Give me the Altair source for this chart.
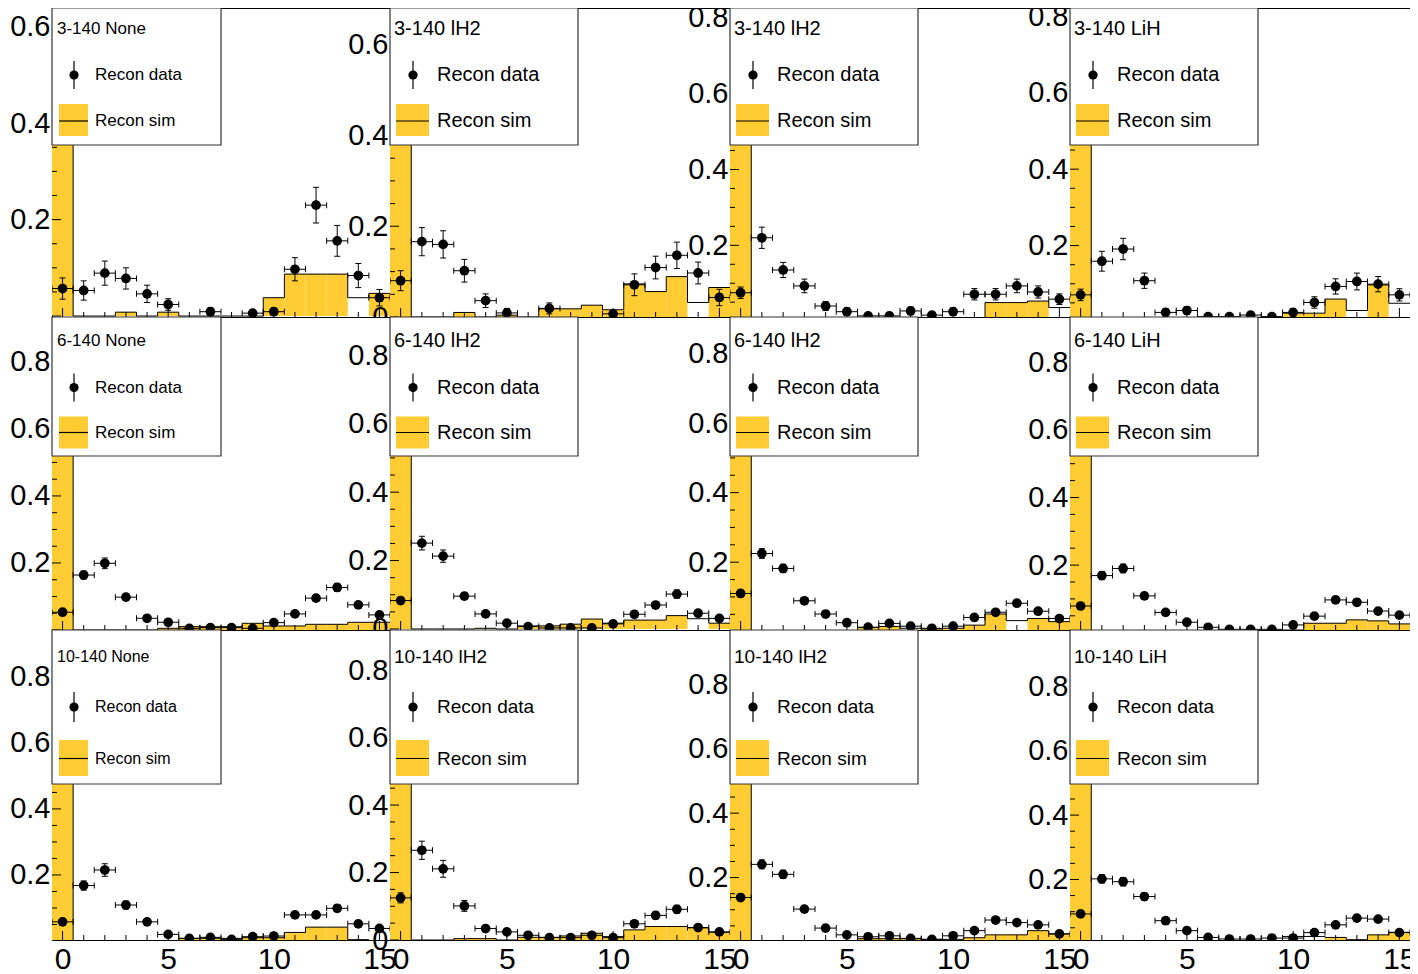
import altair as alt
import pandas as pd

FONT = "Liberation Sans"
YELLOW = "#FFCC33"

bins = list(range(16))
x_label_values = [0, 5, 10, 15]
y_label_candidates = [0.2, 0.4, 0.6, 0.8]

titles = ["3-140 None", "3-140 lH2", "3-140 lH2", "3-140 LiH",
          "6-140 None", "6-140 lH2", "6-140 lH2", "6-140 LiH",
          "10-140 None", "10-140 lH2", "10-140 lH2", "10-140 LiH"]

# y ranges of each pad
ydom_3 = [[-0.002, 0.639], [0.0, 0.681], [0.011, 0.826], [0.013, 0.822]]
ydom_6 = [[0.0, 0.934], [-0.003, 0.912], [0.005, 0.905], [0.008, 0.934]]
ydom_10 = [[0.003, 0.942], [0.0, 0.919], [0.006, 0.969], [0.012, 0.975]]

# ---- 3-140 ----
sim_3_none = [0.609, 0, 0, 0.008, 0, 0.008, 0, 0, 0, 0, 0.038, 0.087, 0.087, 0.087, 0.038, 0.047]
data_3_none = [0.057, 0.053, 0.089, 0.078, 0.046, 0.024, None, 0.009, None, 0.006, 0.009, 0.097, 0.230, 0.156, 0.084, 0.038]
err_3_none = [0.022, 0.020, 0.025, 0.022, 0.018, 0.012, None, 0.008, None, 0.006, 0.008, 0.024, 0.037, 0.032, 0.025, 0.017]

sim_3_lh2a = [0.649, 0, 0, 0.010, 0, 0.004, 0, 0.018, 0.018, 0.026, 0.016, 0.073, 0.056, 0.089, 0.032, 0.065]
data_3_lh2a = [0.080, 0.166, 0.160, 0.102, 0.036, 0.009, None, 0.019, None, None, 0.007, 0.071, 0.109, 0.136, 0.097, 0.043]
err_3_lh2a = [0.022, 0.031, 0.030, 0.025, 0.015, 0.010, None, 0.012, None, None, 0.008, 0.024, 0.025, 0.029, 0.024, 0.018]

sim_3_lh2b = [0.787, 0, 0, 0, 0, 0, 0, 0, 0, 0.008, 0.008, 0.008, 0.049, 0.049, 0.053, 0.036]
data_3_lh2b = [0.075, 0.220, 0.135, 0.093, 0.040, 0.025, 0.014, 0.014, 0.027, 0.016, 0.025, 0.071, 0.071, 0.093, 0.077, 0.058]
err_3_lh2b = [0.015, 0.028, 0.020, 0.018, 0.012, 0.010, 0.008, 0.008, 0.010, 0.008, 0.010, 0.015, 0.015, 0.018, 0.016, 0.014]

sim_3_lih = [0.783, 0, 0, 0, 0, 0, 0, 0, 0, 0, 0.023, 0.023, 0.060, 0.030, 0.097, 0.049]
data_3_lih = [0.071, 0.159, 0.191, 0.108, 0.025, 0.030, 0.014, 0.014, 0.018, 0.014, 0.025, 0.051, 0.093, 0.106, 0.099, 0.071]
err_3_lih = [0.015, 0.026, 0.028, 0.020, 0.010, 0.010, 0.008, 0.008, 0.008, 0.008, 0.010, 0.015, 0.020, 0.022, 0.020, 0.016]

# ---- 6-140 ----
sim_6_none = [0.890, 0, 0, 0, 0, 0.005, 0.010, 0.010, 0.010, 0.020, 0.012, 0.012, 0.017, 0.017, 0.023, 0.023]
data_6_none = [0.053, 0.164, 0.199, 0.098, 0.035, 0.023, 0.005, 0.007, 0.007, 0.005, 0.022, 0.048, 0.095, 0.127, 0.075, 0.045]
err_6_none = [0.008, 0.012, 0.016, 0.010, 0.007, 0.006, 0.003, 0.003, 0.003, 0.003, 0.006, 0.008, 0.010, 0.012, 0.010, 0.008]

sim_6_lh2a = [0.869, 0, 0, 0, 0.002, 0, 0.009, 0.009, 0.014, 0.029, 0.017, 0.026, 0.026, 0.039, 0.030, 0.017]
data_6_lh2a = [0.083, 0.251, 0.213, 0.096, 0.044, 0.017, 0.007, 0.003, 0.003, 0.003, 0.015, 0.043, 0.070, 0.102, 0.046, 0.031]
err_6_lh2a = [0.010, 0.020, 0.018, 0.010, 0.008, 0.006, 0.003, 0.002, 0.002, 0.002, 0.005, 0.008, 0.010, 0.012, 0.008, 0.007]

sim_6_lh2b = [0.862, 0, 0, 0, 0, 0, 0.012, 0.015, 0.010, 0.008, 0.010, 0.019, 0.051, 0.032, 0.038, 0.029]
data_6_lh2b = [0.110, 0.225, 0.182, 0.089, 0.051, 0.026, 0.013, 0.024, 0.016, 0.010, 0.016, 0.041, 0.056, 0.082, 0.059, 0.038]
err_6_lh2b = [0.010, 0.014, 0.012, 0.008, 0.007, 0.005, 0.004, 0.005, 0.004, 0.003, 0.004, 0.007, 0.008, 0.009, 0.008, 0.006]

sim_6_lih = [0.890, 0, 0, 0, 0, 0, 0, 0, 0, 0.005, 0.008, 0.028, 0.028, 0.038, 0.035, 0.026]
data_6_lih = [0.079, 0.169, 0.190, 0.109, 0.060, 0.031, 0.016, 0.010, 0.010, 0.010, 0.023, 0.049, 0.097, 0.090, 0.064, 0.052]
err_6_lih = [0.009, 0.012, 0.013, 0.009, 0.007, 0.005, 0.004, 0.003, 0.003, 0.003, 0.005, 0.007, 0.010, 0.010, 0.008, 0.007]

# ---- 10-140 ----
sim_10_none = [0.897, 0, 0, 0, 0, 0, 0.008, 0.008, 0.008, 0.010, 0.010, 0.026, 0.042, 0.042, 0.004, 0]
data_10_none = [0.058, 0.168, 0.215, 0.109, 0.058, 0.020, 0.008, 0.011, 0.005, 0.013, 0.015, 0.079, 0.079, 0.099, 0.052, 0.038]
err_10_none = [0.008, 0.014, 0.019, 0.012, 0.008, 0.005, 0.003, 0.004, 0.002, 0.004, 0.004, 0.009, 0.009, 0.010, 0.008, 0.007]

sim_10_lh2a = [0.875, 0, 0, 0.004, 0.004, 0, 0.008, 0.008, 0.012, 0.020, 0.010, 0.030, 0.040, 0.040, 0.036, 0.023]
data_10_lh2a = [0.125, 0.266, 0.211, 0.101, 0.034, 0.024, 0.014, 0.007, 0.007, 0.014, 0.007, 0.048, 0.073, 0.091, 0.037, 0.024]
err_10_lh2a = [0.015, 0.027, 0.025, 0.016, 0.008, 0.007, 0.005, 0.003, 0.003, 0.005, 0.003, 0.009, 0.011, 0.012, 0.008, 0.006]

sim_10_lh2b = [0.923, 0, 0, 0, 0, 0, 0.010, 0.010, 0.010, 0.008, 0.008, 0.013, 0.022, 0.022, 0.035, 0.025]
data_10_lh2b = [0.138, 0.241, 0.210, 0.102, 0.043, 0.022, 0.016, 0.019, 0.011, 0.008, 0.019, 0.035, 0.068, 0.060, 0.053, 0.025]
err_10_lh2b = [0.010, 0.014, 0.013, 0.009, 0.006, 0.004, 0.004, 0.004, 0.003, 0.003, 0.004, 0.006, 0.008, 0.008, 0.007, 0.005]

sim_10_lih = [0.929, 0, 0, 0, 0, 0, 0, 0, 0, 0, 0.023, 0.023, 0.020, 0.013, 0.028, 0.036]
data_10_lih = [0.093, 0.202, 0.193, 0.147, 0.072, 0.041, 0.020, 0.015, 0.015, 0.018, 0.018, 0.035, 0.059, 0.080, 0.077, 0.035]
err_10_lih = [0.009, 0.013, 0.013, 0.011, 0.008, 0.006, 0.004, 0.004, 0.004, 0.004, 0.004, 0.006, 0.008, 0.009, 0.009, 0.006]

# sim bins that show up unfilled (outline only) in the picture
hollow_3 = [[14], [14], [15], [13, 15]]
hollow_6 = [[], [14], [8, 13], []]
hollow_10 = [[14], [], [], [10, 11]]

sims = [sim_3_none, sim_3_lh2a, sim_3_lh2b, sim_3_lih,
        sim_6_none, sim_6_lh2a, sim_6_lh2b, sim_6_lih,
        sim_10_none, sim_10_lh2a, sim_10_lh2b, sim_10_lih]
datas = [data_3_none, data_3_lh2a, data_3_lh2b, data_3_lih,
         data_6_none, data_6_lh2a, data_6_lh2b, data_6_lih,
         data_10_none, data_10_lh2a, data_10_lh2b, data_10_lih]
errs = [err_3_none, err_3_lh2a, err_3_lh2b, err_3_lih,
        err_6_none, err_6_lh2a, err_6_lh2b, err_6_lih,
        err_10_none, err_10_lh2a, err_10_lh2b, err_10_lih]
ydoms = ydom_3 + ydom_6 + ydom_10
hollows = hollow_3 + hollow_6 + hollow_10

WIDTHS = [338, 340, 340, 340]
HEIGHTS = [309, 313, 310]

LEG_ROW = [
    dict(h=137, ty=21, dy=67, dh=14, sy0=96, sy1=128, sl=113),
    dict(h=139, ty=23.5, dy=70.5, dh=14, sy0=99.5, sy1=131.5, sl=115.5),
    dict(h=154, ty=27, dy=77, dh=15, sy0=110, sy1=146, sl=128.5),
]
LEG_COL1 = dict(w=169, tx=5, mx=22, lx=43, bx0=7, bx1=36)
LEG_COLN = dict(w=188, tx=4, mx=23, lx=47, bx0=6, bx1=39)
LEG_FONT = [[17, 20], [17, 20], [16, 19]]

one = pd.DataFrame({"a": [0]})


def panel(k):
    row, col = divmod(k, 4)
    w, h = WIDTHS[col], HEIGHTS[row]
    ydom = ydoms[k]
    sim, data, err = sims[k], datas[k], errs[k]

    xs = alt.Scale(domain=[-0.5, 15.5], nice=False, zero=False)
    ys = alt.Scale(domain=ydom, nice=False, zero=False)
    ylabels = [v for v in y_label_candidates if ydom[0] <= v <= ydom[1]]
    if col == 1:
        ylabels = [0] + ylabels
    xaxis = alt.Axis(values=x_label_values, labelExpr="format(datum.value, 'd')",
                     labelFontSize=30, labelFont=FONT, labelColor="black",
                     ticks=False, domain=False, grid=False, labelPadding=4,
                     labelFlush=False, labelOverlap=False, labelBound=False, title=None)
    yaxis = alt.Axis(values=ylabels,
                     labelExpr="datum.value == 0 ? '0' : format(datum.value, '.1f')",
                     labelFontSize=29, labelFont=FONT, labelColor="black",
                     ticks=False, domain=False, grid=False, labelPadding=2,
                     labelFlush=False, labelOverlap=False, labelBound=False, title=None)

    def X(f):
        return alt.X(f, type="quantitative", scale=xs, axis=xaxis, title=None)

    def Y(f):
        return alt.Y(f, type="quantitative", scale=ys, axis=yaxis, title=None)

    layers = []
    filled = [b for b in bins if b not in hollows[k]]
    sim_df = pd.DataFrame({"lo": [b - 0.5 for b in filled], "hi": [b + 0.5 for b in filled],
                           "v": [sim[b] for b in filled], "base": [0.0] * len(filled)})
    layers.append(alt.Chart(sim_df).mark_rect(fill=YELLOW, clip=True)
                  .encode(x=X("lo"), x2="hi", y=Y("v"), y2="base"))
    step_df = pd.DataFrame({"xe": [b - 0.5 for b in bins] + [15.5], "v": list(sim) + [sim[-1]]})
    layers.append(alt.Chart(step_df).mark_line(interpolate="step-after", color="black",
                                               strokeWidth=1, clip=True)
                  .encode(x=X("xe"), y=Y("v")))

    rows = [(b, v, e) for b, v, e in zip(bins, data, err) if v is not None]
    pt_df = pd.DataFrame({"c": [r[0] for r in rows],
                          "lo": [r[0] - 0.5 for r in rows],
                          "hi": [r[0] + 0.5 for r in rows],
                          "v": [r[1] for r in rows],
                          "elo": [r[1] - r[2] for r in rows],
                          "ehi": [r[1] + r[2] for r in rows]})
    base_pt = alt.Chart(pt_df)
    layers.append(base_pt.mark_rule(color="black", strokeWidth=1, clip=True)
                  .encode(x=X("lo"), x2="hi", y=Y("v")))
    for f in ["lo", "hi"]:
        layers.append(base_pt.mark_tick(orient="vertical", size=6, thickness=1, color="black",
                                        opacity=1, clip=True).encode(x=X(f), y=Y("v")))
    layers.append(base_pt.mark_rule(color="black", strokeWidth=1, clip=True)
                  .encode(x=X("c"), y=Y("elo"), y2="ehi"))
    for f in ["elo", "ehi"]:
        layers.append(base_pt.mark_tick(orient="horizontal", size=6, thickness=1, color="black",
                                        opacity=1, clip=True).encode(x=X("c"), y=Y(f)))
    layers.append(base_pt.mark_circle(size=95, color="black", opacity=1, clip=True)
                  .encode(x=X("c"), y=Y("v")))

    ymaj = [round(0.2 * i, 2) for i in range(6) if ydom[0] <= 0.2 * i <= ydom[1]]
    ymin = [round(0.05 * i, 2) for i in range(21)
            if i % 4 != 0 and ydom[0] <= 0.05 * i <= ydom[1]]
    layers.append(alt.Chart(pd.DataFrame({"t": ymaj})).mark_rule(color="black", strokeWidth=1)
                  .encode(y=Y("t"), x=alt.value(0), x2=alt.value(9)))
    layers.append(alt.Chart(pd.DataFrame({"t": ymin})).mark_rule(color="black", strokeWidth=1)
                  .encode(y=Y("t"), x=alt.value(0), x2=alt.value(5)))
    xmaj = [0, 5, 10, 15]
    xmin = [i for i in range(16) if i % 5 != 0]
    layers.append(alt.Chart(pd.DataFrame({"t": xmaj})).mark_rule(color="black", strokeWidth=1)
                  .encode(x=X("t"), y=alt.value(h), y2=alt.value(h - 9)))
    layers.append(alt.Chart(pd.DataFrame({"t": xmin})).mark_rule(color="black", strokeWidth=1)
                  .encode(x=X("t"), y=alt.value(h), y2=alt.value(h - 5)))

    lr = LEG_ROW[row]
    lc = LEG_COL1 if col == 0 else LEG_COLN
    fs = LEG_FONT[row][0 if col == 0 else 1]
    oc = alt.Chart(one)
    layers.append(oc.mark_rect(fill="white", stroke="#333333", strokeWidth=1.2)
                  .encode(x=alt.value(0), x2=alt.value(lc["w"]), y=alt.value(0), y2=alt.value(lr["h"])))
    layers.append(oc.mark_text(align="left", baseline="middle", font=FONT, fontSize=fs, color="black")
                  .encode(x=alt.value(lc["tx"]), y=alt.value(lr["ty"]), text=alt.value(titles[k])))
    layers.append(oc.mark_rule(color="black", strokeWidth=1.2)
                  .encode(x=alt.value(lc["mx"]), y=alt.value(lr["dy"] - lr["dh"]),
                          y2=alt.value(lr["dy"] + lr["dh"])))
    layers.append(oc.mark_circle(size=85, color="black", opacity=1)
                  .encode(x=alt.value(lc["mx"]), y=alt.value(lr["dy"])))
    layers.append(oc.mark_text(align="left", baseline="middle", font=FONT, fontSize=fs, color="black")
                  .encode(x=alt.value(lc["lx"]), y=alt.value(lr["dy"]), text=alt.value("Recon data")))
    layers.append(oc.mark_rect(fill=YELLOW)
                  .encode(x=alt.value(lc["bx0"]), x2=alt.value(lc["bx1"]),
                          y=alt.value(lr["sy0"]), y2=alt.value(lr["sy1"])))
    layers.append(oc.mark_rule(color="black", strokeWidth=1.2)
                  .encode(x=alt.value(lc["bx0"]), x2=alt.value(lc["bx1"]), y=alt.value(lr["sl"])))
    layers.append(oc.mark_text(align="left", baseline="middle", font=FONT, fontSize=fs, color="black")
                  .encode(x=alt.value(lc["lx"]), y=alt.value(lr["sl"]), text=alt.value("Recon sim")))

    return alt.layer(*layers).properties(width=w, height=h)


panels = [panel(k) for k in range(12)]

# autosize "none": the concat's own size signal is 0, so the padding fixes the
# drawing's origin and the page size (1402 x 962 px)
chart = (alt.concat(*panels, columns=4, spacing=0, bounds="flush")
         .properties(padding={"left": 44, "top": 0, "right": 1358, "bottom": 962},
                     autosize=alt.AutoSizeParams(type="none"),
                     background="white")
         .configure_view(stroke="black", strokeWidth=1, fill="white")
         .configure_concat(spacing=0))

chart.save("out.html", embed_options={"renderer": "svg", "actions": False})
